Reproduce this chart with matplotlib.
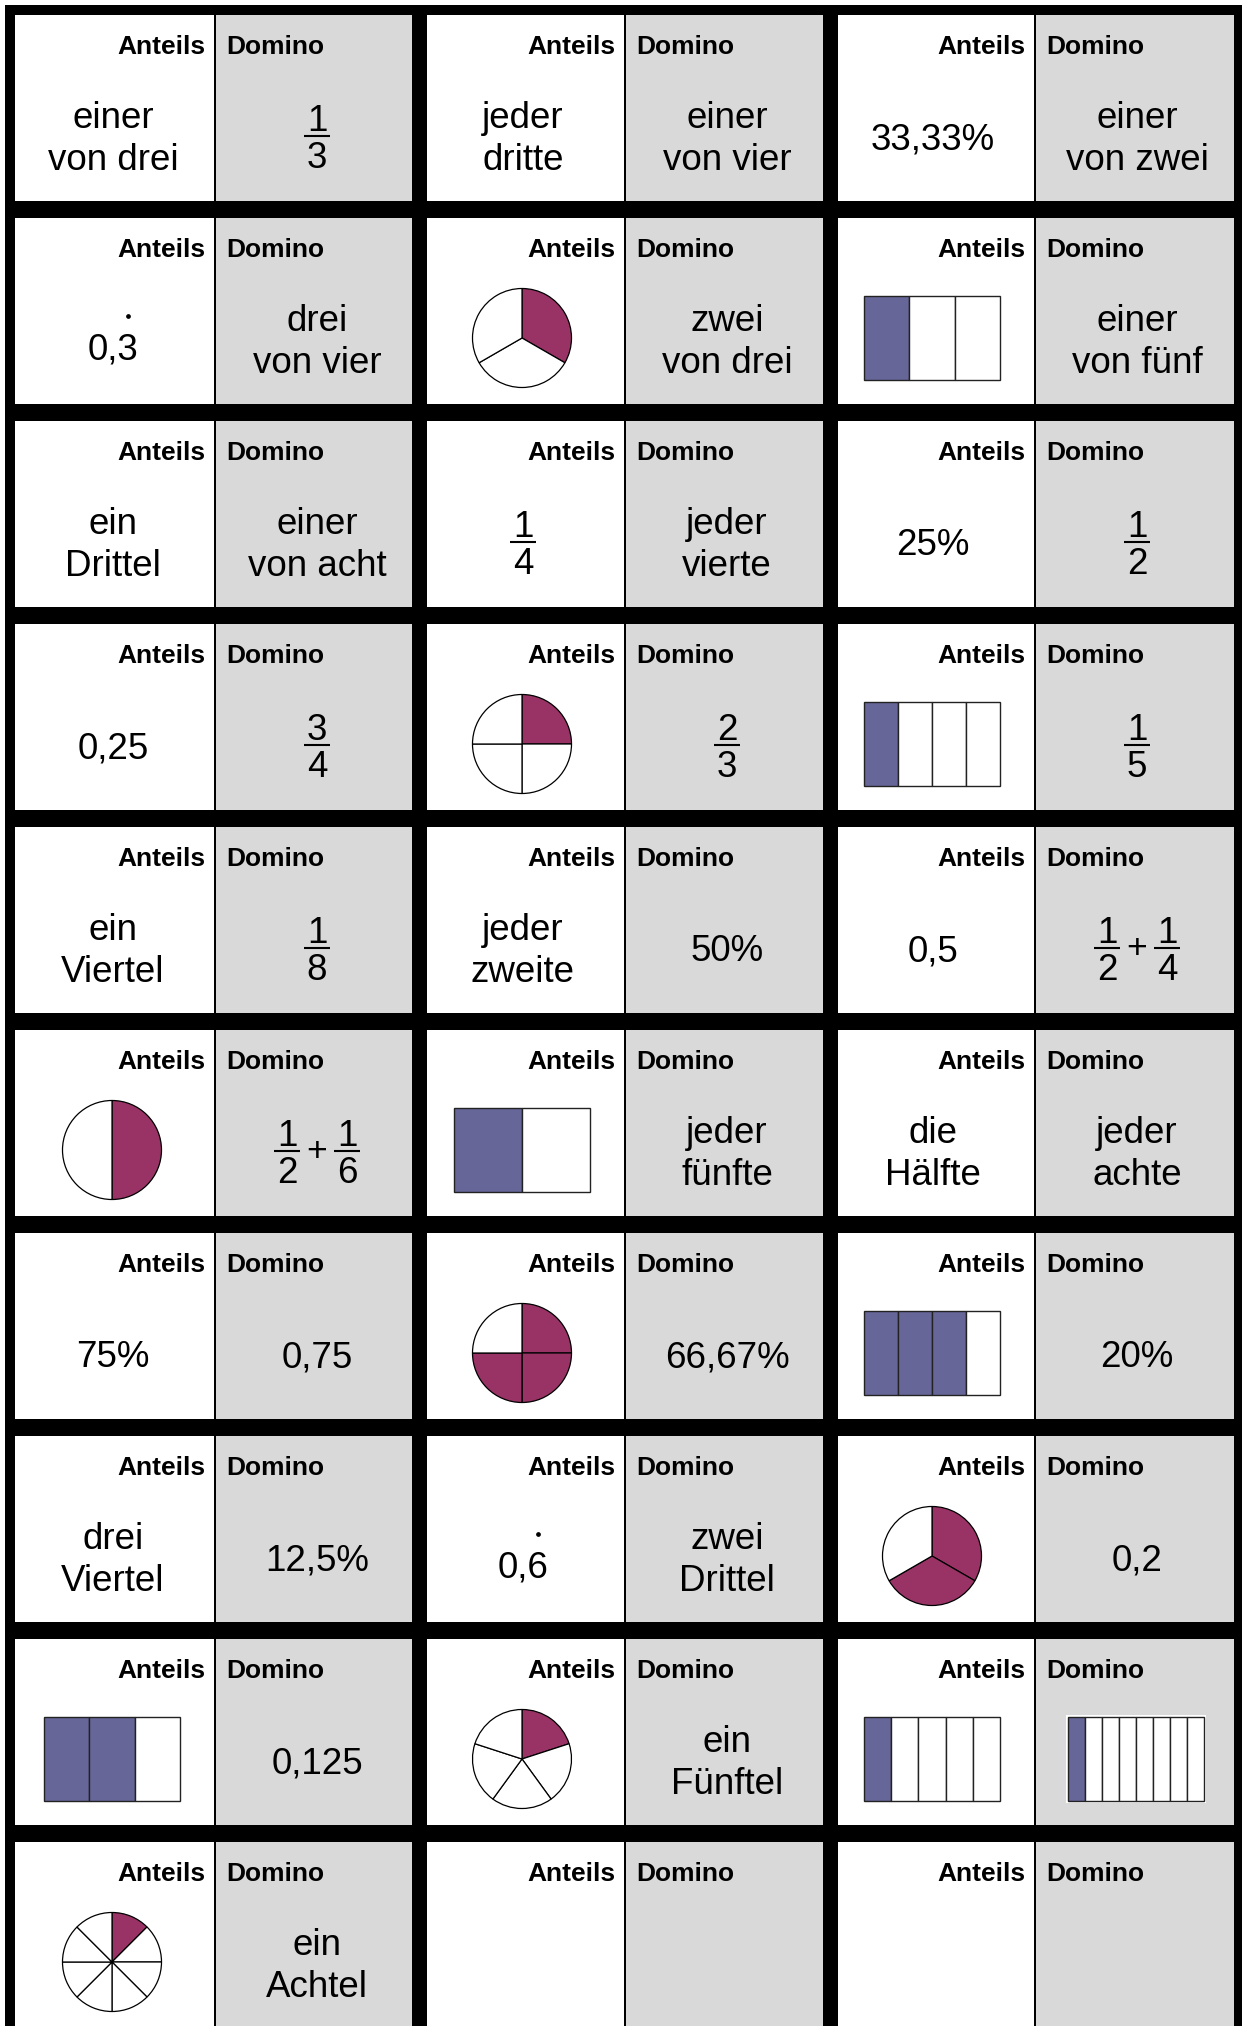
import matplotlib
matplotlib.use("Agg")
import matplotlib.pyplot as plt
from matplotlib.patches import Rectangle, Wedge

plt.rcParams['font.family'] = ['Liberation Sans', 'DejaVu Sans']

# card contents, row by row (3 cards per row): left half / right half
# "frac:a/b", "sum:a/b+c/d", "pie:k/n", "bar:k/n", "rep:0,3" (repeating decimal), plain text
left_items = [
    "einer\nvon drei", "jeder\ndritte", "33,33%",
    "rep:0,3", "pie:1/3", "bar:1/3",
    "ein\nDrittel", "frac:1/4", "25%",
    "0,25", "pie:1/4", "bar:1/4",
    "ein\nViertel", "jeder\nzweite", "0,5",
    "pie:1/2", "bar:1/2", "die\nHälfte",
    "75%", "pie:3/4", "bar:3/4",
    "drei\nViertel", "rep:0,6", "pie:2/3",
    "bar:2/3", "pie:1/5", "bar:1/5",
    "pie:1/8", "", "",
]
right_items = [
    "frac:1/3", "einer\nvon vier", "einer\nvon zwei",
    "drei\nvon vier", "zwei\nvon drei", "einer\nvon fünf",
    "einer\nvon acht", "jeder\nvierte", "frac:1/2",
    "frac:3/4", "frac:2/3", "frac:1/5",
    "frac:1/8", "50%", "sum:1/2+1/4",
    "sum:1/2+1/6", "jeder\nfünfte", "jeder\nachte",
    "0,75", "66,67%", "20%",
    "12,5%", "zwei\nDrittel", "0,2",
    "0,125", "ein\nFünftel", "bar:1/8",
    "ein\nAchtel", "", "",
]
header_left = "Anteils"
header_right = "Domino"

n_rows, n_cols = 10, 3
W, H = 1242, 2026
Y0, PY, CARD_H = 15, 203, 186
GRAY = "#d9d9d9"
PIE_COLOR = "#993366"
BAR_COLOR = "#666699"
FS = 26.5    # main text, pt
FS_HEAD = 19

fig = plt.figure(figsize=(W / 100, H / 100), dpi=100)
ax = fig.add_axes([0, 0, 1, 1])
ax.set_xlim(0, W)
ax.set_ylim(H, 0)
ax.axis("off")

ax.add_patch(Rectangle((5, 5), W - 5, H - 5, color="black", lw=0))


def draw_frac(cx, top, num, den, fs=FS, half=13):
    ax.text(cx, top + 116, str(num), ha="center", va="baseline", fontsize=fs)
    ax.plot([cx - half, cx + half], [top + 121, top + 121], color="black", lw=1.5,
            solid_capstyle="butt")
    ax.text(cx, top + 153, str(den), ha="center", va="baseline", fontsize=fs)


def draw_pie(cx, cy, k, n, r=49.5):
    step = 360 / n
    for i in range(n):
        # y axis is inverted, so increasing data angle runs clockwise on screen
        ax.add_patch(Wedge((cx, cy), r, -90 + i * step, -90 + (i + 1) * step,
                           facecolor=PIE_COLOR if i < k else "white",
                           edgecolor="black", lw=0.9))


def draw_bar(cx, cy, k, n, w=136, h=84, frame=False):
    left, upper = cx - w / 2, cy - h / 2
    if frame:
        ax.add_patch(Rectangle((left - 2, upper - 2), w + 4, h + 4, facecolor="white", lw=0))
    cw = w / n
    for i in range(n):
        ax.add_patch(Rectangle((left + i * cw, upper), cw, h,
                               facecolor=BAR_COLOR if i < k else "white",
                               edgecolor="#222222", lw=1.0))


def draw_item(item, cx, top, in_gray):
    if not item:
        return
    if item.startswith("frac:"):
        a, b = item[5:].split("/")
        draw_frac(cx, top, a, b)
    elif item.startswith("sum:"):
        f1, f2 = item[4:].split("+")
        a, b = f1.split("/")
        c, d = f2.split("/")
        draw_frac(cx - 30, top, a, b)
        ax.text(cx, top + 131, "+", ha="center", va="baseline", fontsize=FS - 1)
        draw_frac(cx + 30, top, c, d)
    elif item.startswith("pie:"):
        k, n = map(int, item[4:].split("/"))
        draw_pie(cx - 1, top + 120, k, n)
    elif item.startswith("bar:"):
        k, n = map(int, item[4:].split("/"))
        draw_bar(cx - 1, top + 120, k, n, frame=in_gray)
    elif item.startswith("rep:"):
        txt = item[4:]
        ax.text(cx, top + 141, txt, ha="center", va="baseline", fontsize=FS)
        # dot over the last digit
        em = FS * 100 / 72
        ax.plot([cx + 0.417 * em], [top + 98], marker="o", ms=2.4, color="black", lw=0)
    else:
        lines = item.split("\n")
        if len(lines) == 1:
            ax.text(cx, top + 134, lines[0], ha="center", va="baseline", fontsize=FS)
        else:
            for j, ln in enumerate(lines):
                ax.text(cx, top + 113 + 42 * j, ln, ha="center", va="baseline", fontsize=FS)


for idx in range(n_rows * n_cols):
    r, c = divmod(idx, n_cols)
    left = 15 + 411.5 * c
    div = 214 + 410 * c       # black line between the two halves
    right = 412 + 411 * c
    top = Y0 + r * PY
    ax.add_patch(Rectangle((left, top), div - left, CARD_H, facecolor="white", lw=0))
    ax.add_patch(Rectangle((div + 2, top), right - div - 2, CARD_H, facecolor=GRAY, lw=0))
    ax.text(div - 9, top + 39, header_left, ha="right", va="baseline",
            fontsize=FS_HEAD, fontweight="bold")
    ax.text(div + 12, top + 39, header_right, ha="left", va="baseline",
            fontsize=FS_HEAD, fontweight="bold")
    draw_item(left_items[idx], div - 101, top, False)
    draw_item(right_items[idx], div + 103, top, True)

fig.savefig("out.png", dpi=100)
